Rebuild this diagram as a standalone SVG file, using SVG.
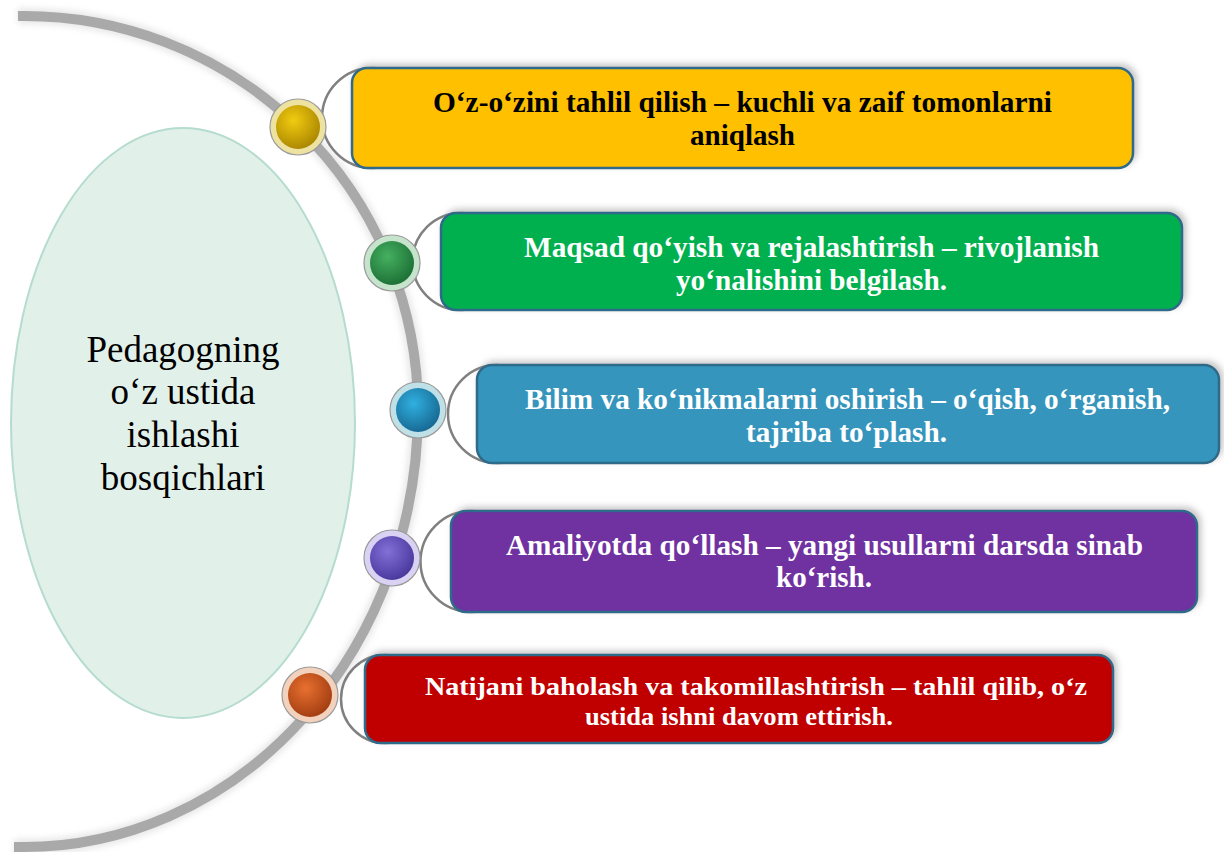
<svg xmlns="http://www.w3.org/2000/svg" width="1224" height="852" viewBox="0 0 1224 852">
<style>
.box{stroke:#2E6A8A;stroke-width:2.5}
.bt{font-family:"Liberation Serif","Times New Roman",serif;font-weight:bold;fill:#fff}
.bt.dark{fill:#000}
.et{font-family:"Liberation Serif","Times New Roman",serif;font-size:37px;fill:#000;text-anchor:middle}
.brk{fill:none;stroke:#808080;stroke-width:2.5}
.ring{stroke:#9a9a9a;stroke-width:1.2}
</style>
<defs>
<filter id="sh" x="-5%" y="-30%" width="110%" height="160%">
<feDropShadow dx="3" dy="-3" stdDeviation="3" flood-color="#808080" flood-opacity="0.45"/>
</filter>
<filter id="blur" x="-20%" y="-20%" width="140%" height="140%"><feGaussianBlur stdDeviation="3"/></filter>
<radialGradient id="gY" cx="40%" cy="35%" r="70%"><stop offset="0" stop-color="#F2CC10"/><stop offset="1" stop-color="#A88400"/></radialGradient>
<radialGradient id="gG" cx="40%" cy="35%" r="70%"><stop offset="0" stop-color="#45B060"/><stop offset="1" stop-color="#1B6E34"/></radialGradient>
<radialGradient id="gB" cx="40%" cy="35%" r="70%"><stop offset="0" stop-color="#30B0E0"/><stop offset="1" stop-color="#166690"/></radialGradient>
<radialGradient id="gP" cx="40%" cy="35%" r="70%"><stop offset="0" stop-color="#8470D8"/><stop offset="1" stop-color="#46369A"/></radialGradient>
<radialGradient id="gO" cx="40%" cy="35%" r="70%"><stop offset="0" stop-color="#E87030"/><stop offset="1" stop-color="#A03C10"/></radialGradient>
</defs>
<rect width="1224" height="852" fill="#fff"/>

<g id="connectors">
<path d="M18,16 A394,394 0 0 1 418,410 A394,437 0 0 1 24,847 L14,847" fill="none" stroke="#d8d8d8" stroke-width="16" filter="url(#blur)" opacity="0.6"/>
<path id="main-arc" d="M18,16 A394,394 0 0 1 418,410 A394,437 0 0 1 24,847 L14,847" fill="none" stroke="#A9A9A9" stroke-width="10"/>
<circle class="brk" cx="372" cy="118" r="50"/>
<circle class="brk" cx="461" cy="261.5" r="48.5"/>
<circle class="brk" cx="497" cy="414" r="49"/>
<circle class="brk" cx="471" cy="561.5" r="50.5"/>
<circle class="brk" cx="385" cy="699" r="44"/>
</g>

<g id="center">
<ellipse cx="183" cy="423" rx="172" ry="295" fill="#E2F0EA" stroke="#B5DCCF" stroke-width="2"/>
<text class="et" x="183" y="362">Pedagogning</text>
<text class="et" x="183" y="404">o‘z ustida</text>
<text class="et" x="183" y="447">ishlashi</text>
<text class="et" x="183" y="490">bosqichlari</text>
</g>

<g id="step1">
<rect class="box" x="352" y="68" width="781" height="100" rx="15" fill="#FFC000" filter="url(#sh)"/>
<text class="bt dark" font-size="29" x="433" y="112" textLength="619" lengthAdjust="spacingAndGlyphs">O‘z-o‘zini tahlil qilish – kuchli va zaif tomonlarni</text>
<text class="bt dark" font-size="29" x="690" y="145" textLength="105" lengthAdjust="spacingAndGlyphs">aniqlash</text>
</g>

<g id="step2">
<rect class="box" x="441" y="213" width="741" height="97" rx="15" fill="#00B050" filter="url(#sh)"/>
<text class="bt" font-size="29" x="524" y="257" textLength="575" lengthAdjust="spacingAndGlyphs">Maqsad qo‘yish va rejalashtirish – rivojlanish</text>
<text class="bt" font-size="29" x="676" y="290" textLength="271" lengthAdjust="spacingAndGlyphs">yo‘nalishini belgilash.</text>
</g>

<g id="step3">
<rect class="box" x="477" y="365" width="742" height="98" rx="15" fill="#3595BC" filter="url(#sh)"/>
<text class="bt" font-size="29" x="525" y="409" textLength="645" lengthAdjust="spacingAndGlyphs">Bilim va ko‘nikmalarni oshirish – o‘qish, o‘rganish,</text>
<text class="bt" font-size="29" x="746" y="442" textLength="201" lengthAdjust="spacingAndGlyphs">tajriba to‘plash.</text>
</g>

<g id="step4">
<rect class="box" x="451" y="511" width="746" height="101" rx="15" fill="#7030A0" filter="url(#sh)"/>
<text class="bt" font-size="29" x="506" y="555" textLength="637" lengthAdjust="spacingAndGlyphs">Amaliyotda qo‘llash – yangi usullarni darsda sinab</text>
<text class="bt" font-size="29" x="776" y="587" textLength="96" lengthAdjust="spacingAndGlyphs">ko‘rish.</text>
</g>

<g id="step5">
<rect class="box" x="365" y="655" width="748" height="88" rx="15" fill="#C00000" filter="url(#sh)"/>
<text class="bt" font-size="26" x="425" y="695" textLength="662" lengthAdjust="spacingAndGlyphs">Natijani baholash va takomillashtirish – tahlil qilib, o‘z</text>
<text class="bt" font-size="26" x="585" y="725" textLength="308" lengthAdjust="spacingAndGlyphs">ustida ishni davom ettirish.</text>
</g>

<g id="node1"><circle class="ring" cx="298" cy="127" r="28" fill="#EDE2A0"/><circle cx="298" cy="127" r="22" fill="url(#gY)"/></g>
<g id="node2"><circle class="ring" cx="392" cy="263" r="28" fill="#C6E4CC"/><circle cx="392" cy="263" r="22" fill="url(#gG)"/></g>
<g id="node3"><circle class="ring" cx="418" cy="410" r="28" fill="#BFE0E6"/><circle cx="418" cy="410" r="22" fill="url(#gB)"/></g>
<g id="node4"><circle class="ring" cx="392" cy="558" r="28" fill="#D9D2F2"/><circle cx="392" cy="558" r="22" fill="url(#gP)"/></g>
<g id="node5"><circle class="ring" cx="310" cy="695" r="28" fill="#F2D2BC"/><circle cx="310" cy="695" r="22" fill="url(#gO)"/></g>
</svg>
